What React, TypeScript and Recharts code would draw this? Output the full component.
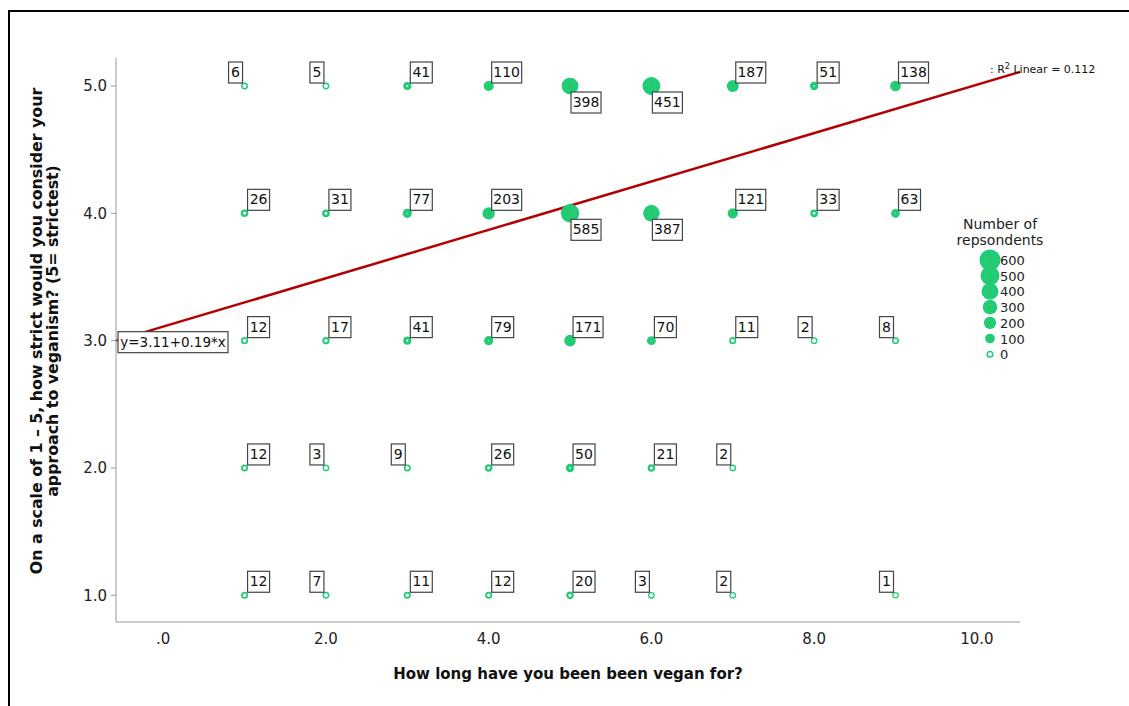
import React from 'react'
import {
  ScatterChart,
  Scatter,
  XAxis,
  YAxis,
  ReferenceLine,
  ReferenceDot,
} from 'recharts'

const GREEN = '#22cc77'
const FONT = '"DejaVu Sans", sans-serif'

// years vegan (x) and strictness rating (y)
const years = [1, 2, 3, 4, 5, 6, 7, 8, 9]
const xTicks = [0, 2, 4, 6, 8, 10]
const yTicks = [1, 2, 3, 4, 5]

// number of respondents per cell, one list per strictness level
const counts5 = [6, 5, 41, 110, 398, 451, 187, 51, 138]
const counts4 = [26, 31, 77, 203, 585, 387, 121, 33, 63]
const counts3 = [12, 17, 41, 79, 171, 70, 11, 2, 8]
const counts2 = [12, 3, 9, 26, 50, 21, 2, null, null]
const counts1 = [12, 7, 11, 12, 20, 3, 2, null, 1]

const legendSizes = [600, 500, 400, 300, 200, 100, 0]

// fit line reported on the chart
const intercept = 3.11
const slope = 0.19
const xMin = -0.58
const xMax = 10.53

const rows: [number, (number | null)[]][] = [
  [5, counts5],
  [4, counts4],
  [3, counts3],
  [2, counts2],
  [1, counts1],
]

const points = rows.flatMap(([level, counts]) =>
  counts
    .map((c, i) => (c == null ? null : { x: years[i], y: level, count: c }))
    .filter(Boolean)
)

const radius = (c: number) => Math.min(9.2, 3.3 + 7.2 * Math.pow(c / 600, 0.85))
const legendRadius = (c: number) => 3.3 + 7.2 * Math.pow(c / 600, 0.85)

const Marker = ({ cx, cy, count, r }: { cx: number; cy: number; count: number; r: number }) => (
  <g>
    <circle cx={cx} cy={cy} r={r} fill={GREEN} />
    {count < 80 && (
      <circle cx={cx} cy={cy} r={Math.max(0.5, 2.1 - count / 40)} fill="#fff" />
    )}
    {count >= 80 && <circle cx={cx} cy={cy} r={1} fill="#44bb22" />}
  </g>
)

const PointShape = (props: any) => {
  const { cx, cy, payload } = props
  const count: number = payload.count
  const text = String(count)
  const w = 6 + 8 * text.length
  const h = 21
  let bx = cx + 3
  let by = cy - 3 - h
  if (text.length === 1) bx = cx - 2 - w
  if (count >= 350) {
    bx = cx + 1
    by = cy + 6
  }
  return (
    <g>
      <Marker cx={cx} cy={cy} count={count} r={radius(count)} />
      <rect x={bx} y={by} width={w} height={h} fill="#fff" stroke="#444" strokeWidth={1.2} />
      <text x={bx + w / 2} y={by + 15} textAnchor="middle" fontSize={14} fill="#111" fontFamily={FONT}>
        {text}
      </text>
    </g>
  )
}

const EquationBox = (props: any) => {
  const { cx, cy } = props
  return (
    <g>
      <rect x={cx + 2} y={cy - 9} width={110} height={21} fill="#fff" stroke="#444" strokeWidth={1.2} />
      <text x={cx + 57} y={cy + 6} textAnchor="middle" fontSize={13.5} fill="#111" fontFamily={FONT}>
        y=3.11+0.19*x
      </text>
    </g>
  )
}

const RSquared = (props: any) => {
  const { cx, cy } = props
  return (
    <text x={cx - 30} y={cy + 1} fontSize={11} fill="#111" fontFamily={FONT}>
      : R
      <tspan dy={-4} fontSize={8}>2</tspan>
      <tspan dy={4}> Linear = 0.112</tspan>
    </text>
  )
}

const YTitle = (props: any) => {
  const { viewBox } = props
  const cy = viewBox.y + viewBox.height / 2 - 9
  return (
    <text
      transform={`translate(42, ${cy}) rotate(-90)`}
      textAnchor="middle"
      fontSize={15.8}
      fontWeight="bold"
      fill="#111"
      fontFamily={FONT}
    >
      <tspan x={0} dy={0}>On a scale of 1 – 5, how strict would you consider your</tspan>
      <tspan x={0} dy={16}>approach to veganism? (5= strictest)</tspan>
    </text>
  )
}

const SizeLegend = () => (
  <div style={{ position: 'absolute', left: 940, top: 216, width: 120, fontFamily: FONT }}>
    <div style={{ textAlign: 'center', fontSize: 14, lineHeight: '16px', color: '#222' }}>
      Number of
      <br />
      repsondents
    </div>
    <svg width={120} height={130} style={{ display: 'block' }}>
      {legendSizes.map((s, i) => {
        const cy = 12 + i * 15.7
        return (
          <g key={s}>
            {s === 0 ? (
              <circle cx={50} cy={cy} r={2.8} fill="#fff" stroke={GREEN} strokeWidth={1.5} />
            ) : (
              <Marker cx={50} cy={cy} count={s} r={legendRadius(s)} />
            )}
            <text x={60} y={cy + 5} fontSize={13} fill="#222" fontFamily={FONT}>
              {s}
            </text>
          </g>
        )
      })}
    </svg>
  </div>
)

const App = () => {
  return (
    <div style={{ position: 'absolute', left: 0, top: 0, width: 1129, height: 706, background: '#fff' }}>
      <div
        style={{
          position: 'absolute',
          left: 8,
          top: 10,
          width: 1121,
          height: 696,
          boxSizing: 'border-box',
          borderTop: '2px solid #000',
          borderLeft: '2px solid #000',
        }}
      />
      <div style={{ position: 'absolute', left: 0, top: 0 }}>
        <ScatterChart
          width={1129}
          height={706}
          margin={{ top: 58, right: 109, bottom: 54, left: 60 }}
          style={{ fontFamily: FONT }}
        >
          <XAxis
            type="number"
            dataKey="x"
            domain={[xMin, xMax]}
            ticks={xTicks}
            allowDataOverflow
            tickFormatter={(v: number) => (v === 0 ? '.0' : v.toFixed(1))}
            tickLine={false}
            tickMargin={5}
            height={30}
            stroke="#999"
            fontSize={15}
            tick={{ fill: '#222', fontSize: 15 }}
            label={{
              value: 'How long have you been been vegan for?',
              position: 'bottom',
              offset: 16,
              fill: '#111',
              fontSize: 15,
              fontWeight: 'bold',
            }}
          />
          <YAxis
            type="number"
            dataKey="y"
            domain={[0.79, 5.22]}
            ticks={yTicks}
            allowDataOverflow
            tickFormatter={(v: number) => v.toFixed(1)}
            tickSize={5}
            tickMargin={4}
            width={56}
            stroke="#999"
            fontSize={15}
            tick={{ fill: '#222', fontSize: 15 }}
            label={<YTitle />}
          />
          <Scatter data={points} shape={PointShape} isAnimationActive={false} />
          <ReferenceLine
            segment={[
              { x: xMin, y: intercept + slope * xMin },
              { x: xMax, y: intercept + slope * xMax },
            ]}
            stroke="#b30000"
            strokeWidth={2.5}
            ifOverflow="visible"
          />
          <ReferenceDot
            x={xMin}
            y={intercept + slope * xMin}
            ifOverflow="visible"
            shape={EquationBox}
          />
          <ReferenceDot
            x={xMax}
            y={intercept + slope * xMax}
            ifOverflow="visible"
            shape={RSquared}
          />
        </ScatterChart>
      </div>
      <SizeLegend />
    </div>
  )
}

export default App
